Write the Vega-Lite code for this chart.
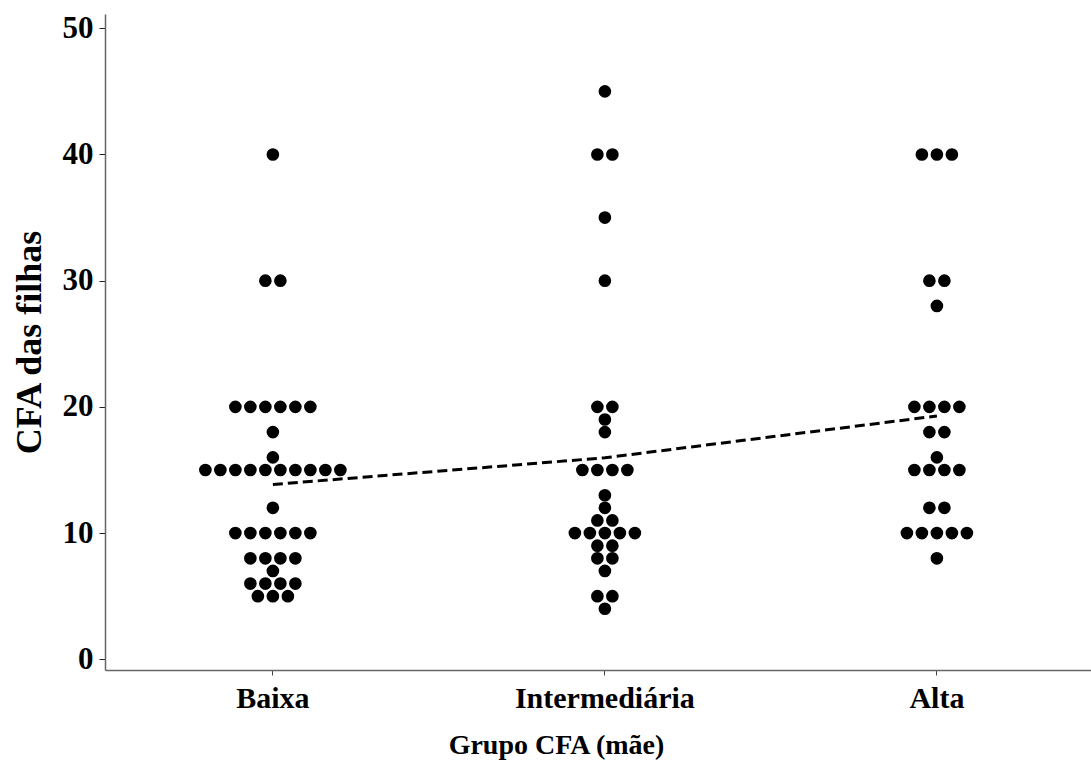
{
  "$schema": "https://vega.github.io/schema/vega-lite/v6.json",
  "width": 986,
  "height": 656,
  "autosize": "none",
  "padding": {"left": 105, "top": 14, "right": 0, "bottom": 106},
  "background": "white",
  "config": {
    "view": {"stroke": null},
    "font": "Liberation Serif",
    "axis": {"grid": false}
  },
  "data": {
    "values": [
      {"g": "Baixa", "v": 40, "slot": 0},
      {"g": "Baixa", "v": 30, "slot": -0.5},
      {"g": "Baixa", "v": 30, "slot": 0.5},
      {"g": "Baixa", "v": 20, "slot": -2.5},
      {"g": "Baixa", "v": 20, "slot": -1.5},
      {"g": "Baixa", "v": 20, "slot": -0.5},
      {"g": "Baixa", "v": 20, "slot": 0.5},
      {"g": "Baixa", "v": 20, "slot": 1.5},
      {"g": "Baixa", "v": 20, "slot": 2.5},
      {"g": "Baixa", "v": 18, "slot": 0},
      {"g": "Baixa", "v": 16, "slot": 0},
      {"g": "Baixa", "v": 15, "slot": -4.5},
      {"g": "Baixa", "v": 15, "slot": -3.5},
      {"g": "Baixa", "v": 15, "slot": -2.5},
      {"g": "Baixa", "v": 15, "slot": -1.5},
      {"g": "Baixa", "v": 15, "slot": -0.5},
      {"g": "Baixa", "v": 15, "slot": 0.5},
      {"g": "Baixa", "v": 15, "slot": 1.5},
      {"g": "Baixa", "v": 15, "slot": 2.5},
      {"g": "Baixa", "v": 15, "slot": 3.5},
      {"g": "Baixa", "v": 15, "slot": 4.5},
      {"g": "Baixa", "v": 12, "slot": 0},
      {"g": "Baixa", "v": 10, "slot": -2.5},
      {"g": "Baixa", "v": 10, "slot": -1.5},
      {"g": "Baixa", "v": 10, "slot": -0.5},
      {"g": "Baixa", "v": 10, "slot": 0.5},
      {"g": "Baixa", "v": 10, "slot": 1.5},
      {"g": "Baixa", "v": 10, "slot": 2.5},
      {"g": "Baixa", "v": 8, "slot": -1.5},
      {"g": "Baixa", "v": 8, "slot": -0.5},
      {"g": "Baixa", "v": 8, "slot": 0.5},
      {"g": "Baixa", "v": 8, "slot": 1.5},
      {"g": "Baixa", "v": 7, "slot": 0},
      {"g": "Baixa", "v": 6, "slot": -1.5},
      {"g": "Baixa", "v": 6, "slot": -0.5},
      {"g": "Baixa", "v": 6, "slot": 0.5},
      {"g": "Baixa", "v": 6, "slot": 1.5},
      {"g": "Baixa", "v": 5, "slot": -1},
      {"g": "Baixa", "v": 5, "slot": 0},
      {"g": "Baixa", "v": 5, "slot": 1},
      {"g": "Intermediária", "v": 45, "slot": 0},
      {"g": "Intermediária", "v": 40, "slot": -0.5},
      {"g": "Intermediária", "v": 40, "slot": 0.5},
      {"g": "Intermediária", "v": 35, "slot": 0},
      {"g": "Intermediária", "v": 30, "slot": 0},
      {"g": "Intermediária", "v": 20, "slot": -0.5},
      {"g": "Intermediária", "v": 20, "slot": 0.5},
      {"g": "Intermediária", "v": 19, "slot": 0},
      {"g": "Intermediária", "v": 18, "slot": 0},
      {"g": "Intermediária", "v": 15, "slot": -1.5},
      {"g": "Intermediária", "v": 15, "slot": -0.5},
      {"g": "Intermediária", "v": 15, "slot": 0.5},
      {"g": "Intermediária", "v": 15, "slot": 1.5},
      {"g": "Intermediária", "v": 13, "slot": 0},
      {"g": "Intermediária", "v": 12, "slot": 0},
      {"g": "Intermediária", "v": 11, "slot": -0.5},
      {"g": "Intermediária", "v": 11, "slot": 0.5},
      {"g": "Intermediária", "v": 10, "slot": -2},
      {"g": "Intermediária", "v": 10, "slot": -1},
      {"g": "Intermediária", "v": 10, "slot": 0},
      {"g": "Intermediária", "v": 10, "slot": 1},
      {"g": "Intermediária", "v": 10, "slot": 2},
      {"g": "Intermediária", "v": 9, "slot": -0.5},
      {"g": "Intermediária", "v": 9, "slot": 0.5},
      {"g": "Intermediária", "v": 8, "slot": -0.5},
      {"g": "Intermediária", "v": 8, "slot": 0.5},
      {"g": "Intermediária", "v": 7, "slot": 0},
      {"g": "Intermediária", "v": 5, "slot": -0.5},
      {"g": "Intermediária", "v": 5, "slot": 0.5},
      {"g": "Intermediária", "v": 4, "slot": 0},
      {"g": "Alta", "v": 40, "slot": -1},
      {"g": "Alta", "v": 40, "slot": 0},
      {"g": "Alta", "v": 40, "slot": 1},
      {"g": "Alta", "v": 30, "slot": -0.5},
      {"g": "Alta", "v": 30, "slot": 0.5},
      {"g": "Alta", "v": 28, "slot": 0},
      {"g": "Alta", "v": 20, "slot": -1.5},
      {"g": "Alta", "v": 20, "slot": -0.5},
      {"g": "Alta", "v": 20, "slot": 0.5},
      {"g": "Alta", "v": 20, "slot": 1.5},
      {"g": "Alta", "v": 18, "slot": -0.5},
      {"g": "Alta", "v": 18, "slot": 0.5},
      {"g": "Alta", "v": 16, "slot": 0},
      {"g": "Alta", "v": 15, "slot": -1.5},
      {"g": "Alta", "v": 15, "slot": -0.5},
      {"g": "Alta", "v": 15, "slot": 0.5},
      {"g": "Alta", "v": 15, "slot": 1.5},
      {"g": "Alta", "v": 12, "slot": -0.5},
      {"g": "Alta", "v": 12, "slot": 0.5},
      {"g": "Alta", "v": 10, "slot": -2},
      {"g": "Alta", "v": 10, "slot": -1},
      {"g": "Alta", "v": 10, "slot": 0},
      {"g": "Alta", "v": 10, "slot": 1},
      {"g": "Alta", "v": 10, "slot": 2},
      {"g": "Alta", "v": 8, "slot": 0}
    ]
  },
  "encoding": {
    "x": {
      "field": "g",
      "type": "nominal",
      "sort": ["Baixa", "Intermediária", "Alta"],
      "scale": {"type": "band", "paddingInner": 0.5482, "paddingOuter": 0.259, "align": 0.54},
      "axis": {
        "title": "Grupo CFA (mãe)",
        "labelAngle": 0,
        "labelFont": "Liberation Serif",
        "labelFontWeight": "bold",
        "labelFontSize": 30,
        "labelColor": "black",
        "labelPadding": 8,
        "titleFont": "Liberation Serif",
        "titleFontWeight": "bold",
        "titleFontSize": 28,
        "titleColor": "black",
        "titlePadding": 18,
        "titleX": 451,
        "titleAlign": "center",
        "domainColor": "#666666",
        "domainWidth": 1.5,
        "tickColor": "#444444",
        "tickSize": 5,
        "tickWidth": 1
      }
    },
    "y": {
      "field": "v",
      "type": "quantitative",
      "scale": {"domain": [-0.85, 51.13], "nice": false, "zero": false},
      "axis": {
        "title": "CFA das filhas",
        "values": [0, 10, 20, 30, 40, 50],
        "labelFont": "Liberation Serif",
        "labelFontWeight": "bold",
        "labelFontSize": 31,
        "labelColor": "black",
        "labelPadding": 6,
        "titleFont": "Liberation Serif",
        "titleFontWeight": "bold",
        "titleFontSize": 36,
        "titleColor": "black",
        "titlePadding": 14,
        "domainColor": "#666666",
        "domainWidth": 1.5,
        "tickColor": "#222222",
        "tickSize": 6,
        "tickWidth": 1
      }
    }
  },
  "layer": [
    {
      "mark": {"type": "point", "filled": true, "shape": "circle", "size": 160, "color": "black", "opacity": 1},
      "encoding": {
        "xOffset": {"field": "slot", "type": "quantitative", "scale": {"domain": [-5, 5], "nice": false, "zero": false}}
      }
    },
    {
      "mark": {"type": "line", "color": "black", "strokeWidth": 3, "strokeDash": [10, 5]},
      "encoding": {
        "y": {"aggregate": "mean", "field": "v", "type": "quantitative"},
        "order": {"value": null}
      }
    }
  ]
}
